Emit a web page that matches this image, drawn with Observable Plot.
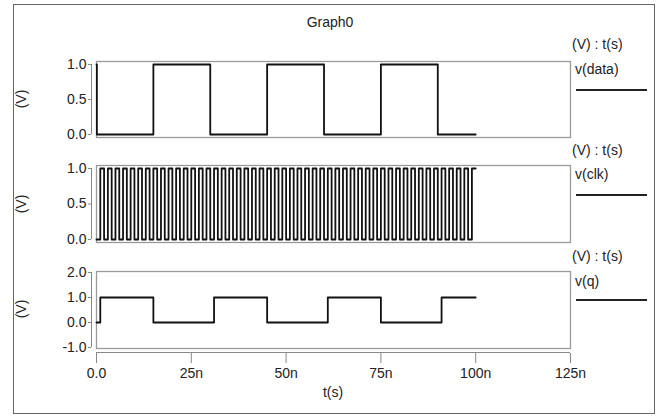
<!DOCTYPE html>
<html><head><meta charset="utf-8">
<script src="https://cdn.jsdelivr.net/npm/d3@7"></script>
<script src="https://cdn.jsdelivr.net/npm/@observablehq/plot@0.6"></script>
<style>
body{margin:0;background:#fff;}
#wrap{position:relative;width:660px;height:418px;font-family:"Liberation Sans",Arial,sans-serif;color:#222;overflow:hidden;background:#fff}
#wrap svg{position:absolute;left:0;top:0;background:transparent;overflow:visible}
.lbl{position:absolute;font-size:14px;white-space:nowrap;line-height:14px}
#border{position:absolute;left:13px;top:4px;width:640px;height:408px;border:1px solid #666}
</style></head><body><div id="wrap"><div id="border"></div></div>
<script>
// ---- data (times in ns, levels in V) ----
const timeTicks = [0, 25, 50, 75, 100, 125];
const timeTickLabels = ["0.0", "25n", "50n", "75n", "100n", "125n"];
const yTicks01 = [0, 0.5, 1];
const yTickLabels01 = ["0.0", "0.5", "1.0"];
const yTicksQ = [-1, 0, 1, 2];
const yTickLabelsQ = ["-1.0", "0.0", "1.0", "2.0"];

const dataTimes  = [0, 0.1, 15, 30, 45, 60, 75, 90, 100];
const dataLevels = [1, 0,   1,  0,  1,  0,  1,  0,  0];

const clkStep = 1; // ns between clock level samples
const clkLevels = [
  0,1,0,1,0,1,0,1,0,1, 0,1,0,1,0,1,0,1,0,1,
  0,1,0,1,0,1,0,1,0,1, 0,1,0,1,0,1,0,1,0,1,
  0,1,0,1,0,1,0,1,0,1, 0,1,0,1,0,1,0,1,0,1,
  0,1,0,1,0,1,0,1,0,1, 0,1,0,1,0,1,0,1,0,1,
  0,1,0,1,0,1,0,1,0,1, 0,1,0,1,0,1,0,1,0,1,
  1
];

const qTimes  = [0, 1, 15, 31, 45, 61, 75, 91, 100];
const qLevels = [0, 1, 0,  1,  0,  1,  0,  1,  1];

const seriesNames = ["v(data)", "v(clk)", "v(q)"];
const legendHeader = "(V) : t(s)";
const yLabel = "(V)";
const xLabel = "t(s)";
const title = "Graph0";

// ---- build tables ----
const dataSeries = dataTimes.map((t, i) => ({t, v: dataLevels[i]}));
const clkSeries = clkLevels.map((v, i) => ({t: i * clkStep, v}));
const qSeries = qTimes.map((t, i) => ({t, v: qLevels[i]}));

const W = 660, H = 418;
const wrap = document.getElementById("wrap");

function panel({series, yDomain, yTicks, yLabels, frameTop, frameBottom, rangeTop, rangeBottom, xAxis}) {
  const marks = [
    Plot.frame({stroke: "#9a9a9a", strokeWidth: 1.3}),
    Plot.ruleX([0], {y1: yDomain[0], y2: yDomain[1], dx: -5, stroke: "#888", strokeWidth: 1}),
    Plot.axisY(yTicks, {tickSize: 3, dx: -5, tickPadding: 2, stroke: "#888", fill: "#222",
      tickFormat: d => yLabels[yTicks.indexOf(d)], label: null}),
    Plot.line(series, {x: "t", y: "v", curve: "step-after", stroke: "#111", strokeWidth: 1.8})
  ];
  if (xAxis) {
    marks.push(
      Plot.ruleY([yDomain[0]], {x1: timeTicks[0], x2: timeTicks[timeTicks.length - 1], dy: 5, stroke: "#888"}),
      Plot.axisX(timeTicks, {anchor: "bottom", tickSize: 10, dy: 5, tickPadding: 5, stroke: "#888", fill: "#222",
        tickFormat: d => timeTickLabels[timeTicks.indexOf(d)], label: null})
    );
  }
  return Plot.plot({
    width: W, height: H,
    marginLeft: 96, marginRight: W - 570, marginTop: frameTop, marginBottom: H - frameBottom,
    style: {background: "transparent", fontSize: "14px", fontFamily: "'Liberation Sans', Arial, sans-serif", overflow: "visible"},
    x: {domain: [timeTicks[0], timeTicks[timeTicks.length - 1]], range: [96, 570], axis: null},
    y: {domain: yDomain, range: [rangeBottom, rangeTop], axis: null},
    marks
  });
}

wrap.appendChild(panel({series: dataSeries, yDomain: [0, 1], yTicks: yTicks01, yLabels: yTickLabels01,
  frameTop: 61, frameBottom: 137, rangeTop: 64, rangeBottom: 134}));
wrap.appendChild(panel({series: clkSeries, yDomain: [0, 1], yTicks: yTicks01, yLabels: yTickLabels01,
  frameTop: 165, frameBottom: 242, rangeTop: 168, rangeBottom: 239}));
wrap.appendChild(panel({series: qSeries, yDomain: [-1, 2], yTicks: yTicksQ, yLabels: yTickLabelsQ,
  frameTop: 271, frameBottom: 348, rangeTop: 272, rangeBottom: 347, xAxis: true}));

function label(text, x, y, opts = {}) {
  const d = document.createElement("div");
  d.className = "lbl";
  d.textContent = text;
  d.style.left = x + "px";
  d.style.top = (y - 7) + "px";
  if (opts.center) d.style.transform = "translateX(-50%)";
  if (opts.rotate) { d.style.transform = "translate(-50%,0) rotate(-90deg)"; d.style.transformOrigin = "50% 50%"; }
  wrap.appendChild(d);
  return d;
}
function legendLine(x1, x2, y) {
  const d = document.createElement("div");
  d.style.cssText = `position:absolute;left:${x1}px;top:${y - 1}px;width:${x2 - x1}px;height:2px;background:#222`;
  wrap.appendChild(d);
}

label(title, 330, 22, {center: true});
const legendY = [[44, 69, 90], [150, 174, 195], [256, 281, 300]];
legendY.forEach(([hy, ny, ly], i) => {
  label(legendHeader, 572, hy);
  label(seriesNames[i], 575, ny);
  legendLine(576, 647, ly);
});
[99, 204, 309].forEach(cy => label(yLabel, 21, cy, {rotate: true}));
label(xLabel, 333, 392, {center: true});
</script></body></html>
